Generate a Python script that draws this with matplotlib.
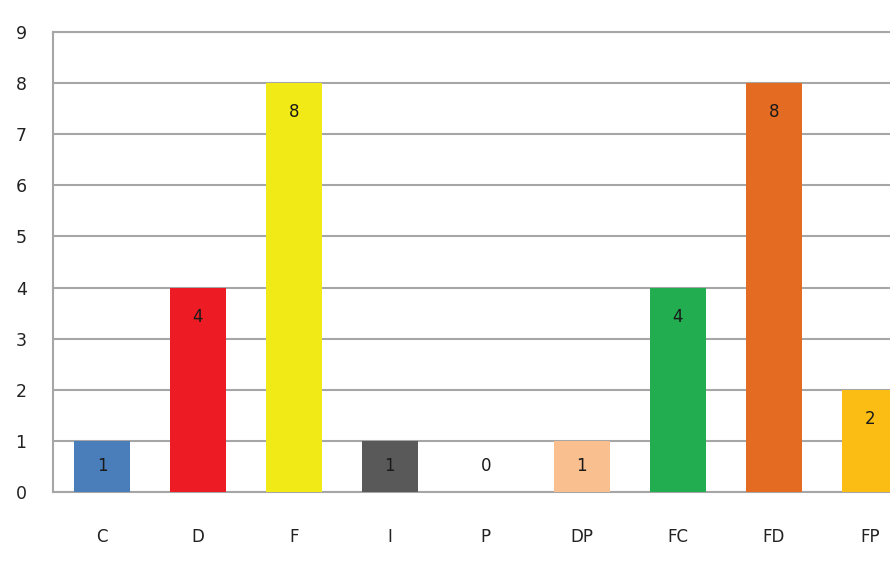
import matplotlib
matplotlib.use('Agg')
import matplotlib.pyplot as plt
import numpy as np

categories = ['C', 'D', 'F', 'I', 'P', 'DP', 'FC', 'FD', 'FP']
counts = [1, 4, 8, 1, 0, 1, 4, 8, 2]
bar_colors = ['#4A7EBB', '#ED1C24', '#F2EA17', '#595959', '#FFFFFF',
              '#FABF8F', '#22AD50', '#E46C22', '#FBBD14']
y_ticks = list(range(0, 10))

GRID = '#A6A6A6'

fig = plt.figure(figsize=(8.9, 5.75), dpi=100)
ax = fig.add_axes([53/890, 1 - 492/575, 1 - 53/890, 460/575])

x = np.arange(len(categories))
ax.bar(x, counts, width=0.58, color=bar_colors, zorder=3)

#data labels sit near the top inside each bar
for xi, v in zip(x, counts):
	ax.text(xi, max(v - 0.57, 0.5), str(v), ha='center', va='center',
	        fontsize=12, color='#1a1a1a', zorder=4)

ax.set_xlim(-0.51, 8.21)
ax.set_ylim(0, 9)
ax.set_yticks(y_ticks)
ax.set_xticks(x)
ax.set_xticklabels(categories)

ax.yaxis.grid(True, color=GRID, linewidth=1.5, zorder=0)
ax.set_axisbelow(True)
#top gridline at 9 gets clipped, so draw it as the top spine
ax.spines['right'].set_visible(False)
for side in ['left', 'bottom', 'top']:
	ax.spines[side].set_color(GRID)
	ax.spines[side].set_linewidth(1.5)

ax.tick_params(axis='y', length=0, pad=19, labelsize=12.5, labelcolor='#222222')
ax.tick_params(axis='x', length=0, pad=26, labelsize=12, labelcolor='#222222')

fig.savefig('out.png', dpi=100)
